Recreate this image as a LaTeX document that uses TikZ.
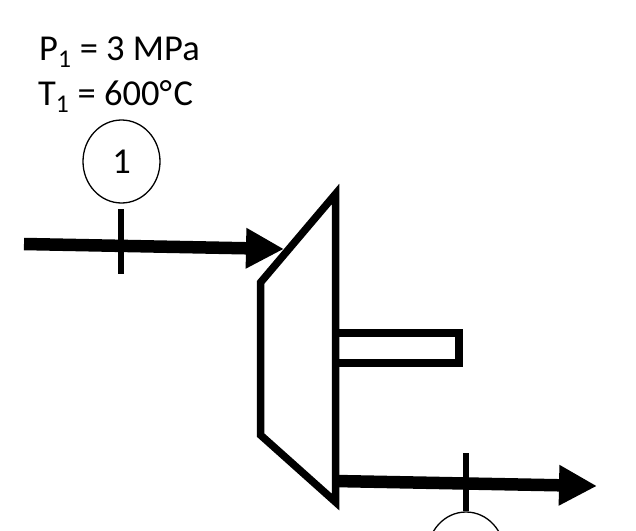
\documentclass[tikz,border=0pt]{standalone}
\usepackage{fontspec}
\setmainfont{Carlito}
\usetikzlibrary{arrows.meta,shapes.geometric}
\tikzset{stateLabel/.style={anchor=base west, inner sep=0pt, font=\fontsize{36.5}{40}\selectfont}}
\tikzset{stateCircle/.style={draw, ellipse, line width=1.3pt, minimum width=77pt, minimum height=83pt, inner sep=0pt, font=\fontsize{36.5}{40}\selectfont}}
\tikzset{flow/.style={line width=12.5pt, -{Triangle[length=38pt,width=38pt]}}}
\tikzset{tick/.style={line width=6pt}}
\tikzset{body/.style={line width=7.5pt, miter limit=10}}

\begin{document}
\begin{tikzpicture}[x=1pt, y=-1pt]
\clip (0,0) rectangle (636,530);
\useasboundingbox (0,0) rectangle (636,530);
% Nodes
\node (pressure) [stateLabel] at (39,60) {P\textsubscript{1} = 3 MPa};
\node (temperature) [stateLabel] at (38,105) {T\textsubscript{1} = 600°\kern1.5pt C};
\node (stateOne) [stateCircle] at (121.5,161.5) {1};
\node (stateTwo) [stateCircle] at (466,553.5) {};

\coordinate (inletStart) at (24,244);
\coordinate (inletEnd) at (284,249);
\coordinate (outletStart) at (335,481);
\coordinate (outletEnd) at (597,486);
\coordinate (tickOneTop) at (121,209);
\coordinate (tickOneBottom) at (121,274);
\coordinate (tickTwoTop) at (466,453);

% Turbine
\draw [body] (260.5,282.5) -- (335.5,194) -- (335.5,502) -- (260.5,435) -- cycle;
\draw [body] (335.5,333) -- (459,333) -- (459,363) -- (335.5,363);

% Connectors
\draw [flow] (inletStart) -- (inletEnd);
\draw [flow] (outletStart) -- (outletEnd);
\draw [tick] (tickOneTop) -- (tickOneBottom);
\draw [tick] (tickTwoTop) -- (stateTwo.north);
\end{tikzpicture}
\end{document}
